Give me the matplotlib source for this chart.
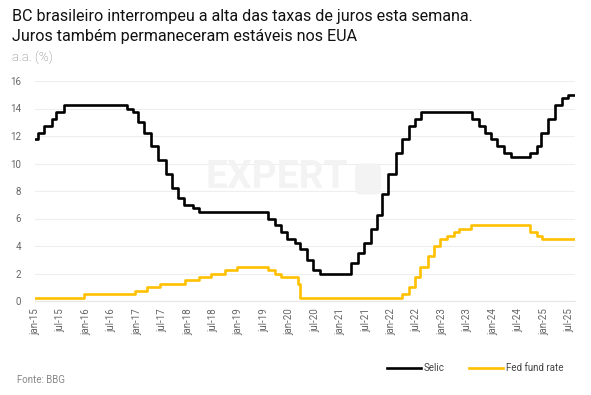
import matplotlib.pyplot as plt
import pandas as pd
from matplotlib.patches import FancyBboxPatch

plt.rcParams['font.family'] = ['Roboto', 'DejaVu Sans']

# change points (date, rate in effect from that date)
selic_dates = ["2015-01-01", "2015-01-22", "2015-03-05", "2015-04-30", "2015-06-04", "2015-07-30",
               "2016-10-20", "2016-12-01", "2017-01-12", "2017-02-23", "2017-04-13", "2017-06-01",
               "2017-07-27", "2017-09-07", "2017-10-26", "2017-12-07", "2018-02-08", "2018-03-22",
               "2019-08-01", "2019-09-19", "2019-10-31", "2019-12-12", "2020-02-06", "2020-03-19",
               "2020-05-07", "2020-06-18", "2020-08-06", "2021-03-18", "2021-05-06", "2021-06-17",
               "2021-08-05", "2021-09-23", "2021-10-28", "2021-12-09", "2022-02-03", "2022-03-17",
               "2022-05-05", "2022-06-16", "2022-08-04", "2023-08-03", "2023-09-21", "2023-11-02",
               "2023-12-14", "2024-02-01", "2024-03-21", "2024-05-09", "2024-09-19", "2024-11-07",
               "2024-12-12", "2025-01-30", "2025-03-20", "2025-05-08", "2025-06-19", "2025-07-31"]
selic_values = [11.75, 12.25, 12.75, 13.25, 13.75, 14.25,
                14.00, 13.75, 13.00, 12.25, 11.25, 10.25,
                9.25, 8.25, 7.50, 7.00, 6.75, 6.50,
                6.00, 5.50, 5.00, 4.50, 4.25, 3.75,
                3.00, 2.25, 2.00, 2.75, 3.50, 4.25,
                5.25, 6.25, 7.75, 9.25, 10.75, 11.75,
                12.75, 13.25, 13.75, 13.25, 12.75, 12.25,
                11.75, 11.25, 10.75, 10.50, 10.75, 11.25,
                12.25, 13.25, 14.25, 14.75, 15.00, 15.00]

fed_dates = ["2015-01-01", "2015-12-17", "2016-12-15", "2017-03-16", "2017-06-15", "2017-12-14",
             "2018-03-22", "2018-06-14", "2018-09-27", "2018-12-20", "2019-08-01", "2019-09-19",
             "2019-10-31", "2020-03-04", "2020-03-16", "2022-03-17", "2022-05-05", "2022-06-16",
             "2022-07-28", "2022-09-22", "2022-11-03", "2022-12-15", "2023-02-02", "2023-03-23",
             "2023-05-04", "2023-07-27", "2024-09-19", "2024-11-08", "2024-12-19", "2025-07-31"]
fed_values = [0.25, 0.50, 0.75, 1.00, 1.25, 1.50,
              1.75, 2.00, 2.25, 2.50, 2.25, 2.00,
              1.75, 1.25, 0.25, 0.50, 1.00, 1.75,
              2.50, 3.25, 4.00, 4.50, 4.75, 5.00,
              5.25, 5.50, 5.00, 4.75, 4.50, 4.50]

pt_months = {1: "jan", 7: "jul"}

fig = plt.figure(figsize=(5.91, 3.95), dpi=100)
ax = fig.add_axes([35 / 591, 1 - 301 / 395, 540 / 591, 220 / 395])

ax.step(pd.to_datetime(selic_dates), selic_values, where="post", color="#000000", lw=1.9, label="Selic")
ax.step(pd.to_datetime(fed_dates), fed_values, where="post", color="#FFC000", lw=1.9, label="Fed fund rate")

ax.set_ylim(0, 16)
ax.set_yticks(range(0, 17, 2))
ax.set_xlim(pd.Timestamp("2015-01-01"), pd.Timestamp("2025-08-10"))
ticks = pd.date_range("2015-01-01", "2025-07-01", freq="6MS")
ax.set_xticks(ticks)
ax.set_xticklabels([f"{pt_months[t.month]}-{t.strftime('%y')}" for t in ticks], rotation=90)

ax.grid(axis="y", color="#eeeeee", lw=0.8)
ax.set_axisbelow(True)
for s in ["top", "right", "left"]:
    ax.spines[s].set_visible(False)
ax.spines["bottom"].set_color("#e6e6e6")
ax.tick_params(axis="both", length=0, labelsize=7, colors="#666666")
ax.tick_params(axis="y", pad=10)
ax.tick_params(axis="x", pad=5)

# watermark
fig.text(205 / 591, 1 - 178 / 395, "EXPERT", fontsize=28, fontweight="bold", color="#f3f3f3",
         va="center", ha="left", zorder=0)
fig.patches.append(FancyBboxPatch((357 / 591, 1 - 193 / 395), 22 / 591, 28 / 395,
                                  boxstyle="round,pad=0.002,rounding_size=0.01",
                                  transform=fig.transFigure, color="#f3f3f3", zorder=0))

fig.text(12 / 591, 1 - 17 / 395, "BC brasileiro interrompeu a alta das taxas de juros esta semana.",
         fontsize=11.6, color="#111111", va="center")
fig.text(12 / 591, 1 - 37 / 395, "Juros também permaneceram estáveis nos EUA",
         fontsize=11.6, color="#111111", va="center")
fig.text(12 / 591, 1 - 57 / 395, "a.a. (%)", fontsize=9.5, fontweight="light", color="#777777", va="center")
fig.text(17 / 591, 1 - 380 / 395, "Fonte: BBG", fontsize=7, color="#888888", va="center")

fig.legend(loc="center", bbox_to_anchor=(475 / 591, 1 - 368 / 395), ncol=2, frameon=False,
           fontsize=7, labelcolor="#444444", handlelength=3.5, handletextpad=0.3, columnspacing=2.5)

fig.savefig("out.png", dpi=100)
